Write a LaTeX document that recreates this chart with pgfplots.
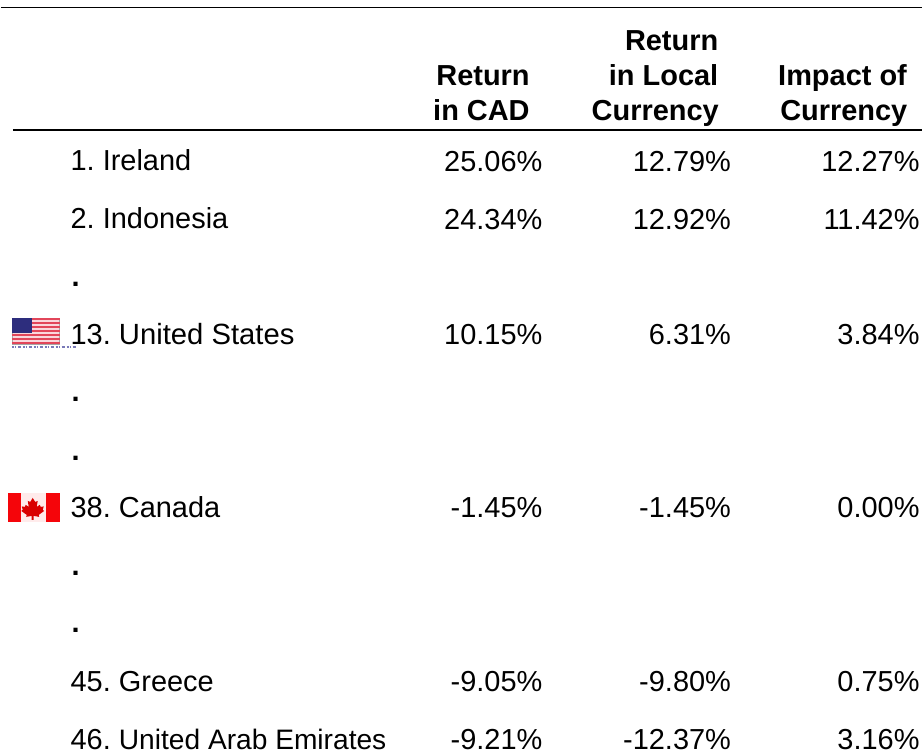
\documentclass[border=0pt]{standalone}
\usepackage{fontspec}
\setmainfont{Liberation Sans}
\usepackage{pgfplots}
\pgfplotsset{compat=1.18}
\pgfplotsset{
  txt/.style={only marks, mark=none, point meta=explicit symbolic, nodes near coords,
    nodes near coords align=center,
    every node near coord/.append style={anchor=#1, inner sep=0pt, outer sep=0pt, yshift=0pt,
      font=\frenchspacing\fontsize{29}{35}\selectfont, text=black}},
  head/.style={txt=#1, every node near coord/.append style={font=\fontsize{29}{35}\selectfont\bfseries}},
}
\definecolor{usred}{RGB}{226,70,90}
\definecolor{uspink}{RGB}{250,215,220}
\definecolor{usblue}{RGB}{45,45,125}
\definecolor{cared}{RGB}{245,5,10}
\begin{document}
\begin{tikzpicture}
\begin{axis}[
    scale only axis, width=923pt, height=754pt,
    xmin=0, xmax=923, ymin=0, ymax=754, y dir=reverse,
    hide axis, clip=false,
]
% rules
\addplot[black, line width=1.6pt] coordinates {(0,7.5) (923,7.5)};
\addplot[black, line width=2.4pt] coordinates {(12,130.5) (923,130.5)};
% US flag
\addplot[fill=uspink, draw=gray!70, line width=0.5pt] coordinates {(11,318.5) (59,318.5) (59,345) (11,345)} --cycle;
\addplot[usred, line width=2pt] coordinates {(11,320) (59,320)};
\addplot[usred, line width=2pt] coordinates {(31,324) (59,324)};
\addplot[usred, line width=2pt] coordinates {(31,328) (59,328)};
\addplot[usred, line width=2pt] coordinates {(31,332) (59,332)};
\addplot[usred, line width=2pt] coordinates {(11,336) (59,336)};
\addplot[usred, line width=2pt] coordinates {(11,340) (59,340)};
\addplot[usred, line width=2pt] coordinates {(11,344) (59,344)};
\addplot[fill=usblue, draw=none] coordinates {(11,319) (31,319) (31,334) (11,334)} --cycle;
\addplot[blue!30!gray!80, line width=1.8pt, dash pattern=on 2pt off 1pt on 1pt off 2pt on 3pt off 2pt] coordinates {(11,347.5) (75,347.5)};
% Canadian flag
\addplot[fill=white!92!red, draw=none] coordinates {(20,494) (45,494) (45,523) (20,523)} --cycle;
\addplot[fill=cared, draw=none] coordinates {(7,494) (20,494) (20,523) (7,523)} --cycle;
\addplot[fill=cared, draw=none] coordinates {(45,494) (59,494) (59,523) (45,523)} --cycle;
\addplot[fill=red!85!black, draw=none] coordinates {(32,499) (34.5,503) (37,502) (36,508) (39,506) (40,508) (43,507.5) (42,511) (43.5,512) (38,516) (38.5,518) (33,517) (33,521) (31,521) (31,517) (25.5,518) (26,516) (20.5,512) (22,511) (21,507.5) (24,508) (25,506) (28,508) (27,502) (29.5,503)} --cycle;
% header
\addplot[head=base east] coordinates {(530,86)[Return] (530,121)[in CAD]
  (719,50.5)[Return] (719,86)[in Local] (719.5,121)[Currency]
  (908,86)[Impact of] (908.5,121)[Currency]};
% row labels
\addplot[txt=base west] coordinates {
  (70,171)[1. Ireland] (70,229)[2. Indonesia] (70,345)[13. {\fontsize{29.3}{35}\selectfont United States}]
  (70,519)[38. Canada] (70,693)[45. Greece]
  (70,751)[46. {\fontsize{28.2}{35}\selectfont United Arab Emirates}]};
\addplot[txt=base west] coordinates {
  (71,287)[\textbf{.}] (71,402)[\textbf{.}] (71,461)[\textbf{.}] (71,577)[\textbf{.}] (71,634)[\textbf{.}]};
% Return in CAD
\addplot[txt=base east] coordinates {
  (542.7,172)[25.06\%] (542.7,230)[24.34\%] (542.7,345)[10.15\%]
  (542.7,519)[-1.45\%] (542.7,693)[-9.05\%] (542.7,751)[-9.21\%]};
% Return in local currency
\addplot[txt=base east] coordinates {
  (731.7,172)[12.79\%] (731.7,230)[12.92\%] (731.7,345)[6.31\%]
  (731.7,519)[-1.45\%] (731.7,693)[-9.80\%] (731.7,751)[-12.37\%]};
% Impact of currency
\addplot[txt=base east] coordinates {
  (920.7,172)[12.27\%] (920.7,230)[11.42\%] (920.7,345)[3.84\%]
  (920.7,519)[0.00\%] (920.7,693)[0.75\%] (920.7,751)[3.16\%]};
\end{axis}
\path (current axis.south west) rectangle (current axis.north east);
\end{tikzpicture}
\end{document}
